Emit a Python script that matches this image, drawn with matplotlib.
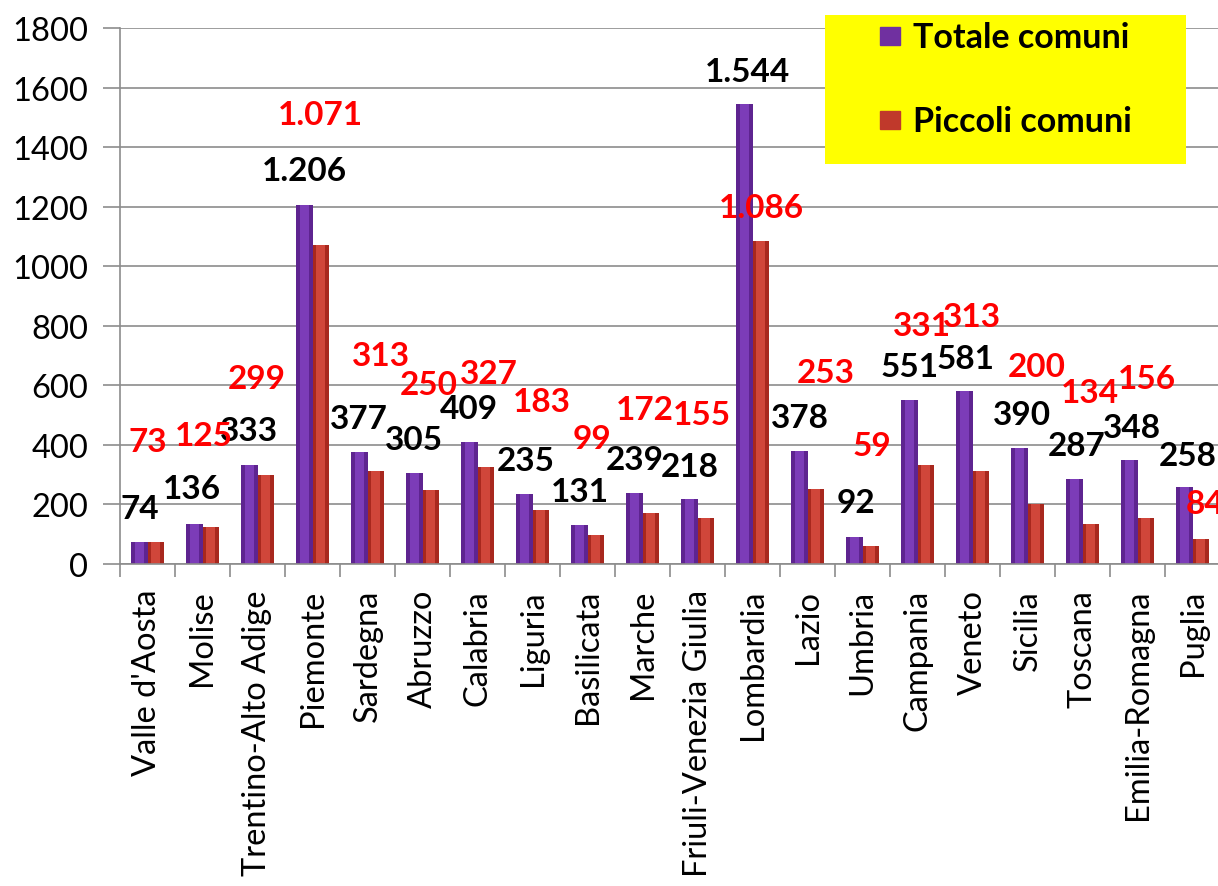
import matplotlib.pyplot as plt
import numpy as np

# --- data ---
regioni = ["Valle d'Aosta", "Molise", "Trentino-Alto Adige", "Piemonte", "Sardegna",
           "Abruzzo", "Calabria", "Liguria", "Basilicata", "Marche",
           "Friuli-Venezia Giulia", "Lombardia", "Lazio", "Umbria", "Campania",
           "Veneto", "Sicilia", "Toscana", "Emilia-Romagna", "Puglia"]
totale = [74, 136, 333, 1206, 377, 305, 409, 235, 131, 239,
          218, 1544, 378, 92, 551, 581, 390, 287, 348, 258]
piccoli = [73, 125, 299, 1071, 313, 250, 327, 183, 99, 172,
           155, 1086, 253, 59, 331, 313, 200, 134, 156, 84]

# where the labels sit in the original (they are not at the bar tops)
tot_lab_x = [-0.14, 0.81, 1.85, 2.86, 3.85, 4.85, 5.85, 6.88, 7.86, 8.86,
             9.86, 10.9, 11.86, 12.88, 13.86, 14.88, 15.9, 16.9, 17.9, 18.92]
tot_lab_y = [185, 252, 447, 1321, 487, 417, 521, 346, 242, 350,
             329, 1654, 491, 208, 662, 689, 501, 397, 457, 363]
pic_lab_x = [0.01, 1.03, 1.99, 3.14, 4.25, 5.12, 6.21, 7.17, 8.08, 9.05,
             10.08, 11.17, 12.34, 13.17, 14.08, 14.99, 16.17, 17.14, 18.17, 19.23]
pic_lab_y = [410, 430, 622, 1509, 699, 602, 639, 545, 420, 518,
             501, 1197, 642, 397, 800, 830, 662, 575, 622, 202]

plt.rcParams['font.family'] = ['Lato', 'DejaVu Sans']

def fmt(v):
    return f"{v:,}".replace(",", ".")

fig = plt.figure(figsize=(12.18, 8.87), dpi=100)
ax = fig.add_axes([120 / 1218, 322 / 887, 1100 / 1218, 536 / 887])

x = np.arange(len(regioni))
w = 0.3
purple, purple_hi = "#5e2490", "#7c3cb8"
red, red_hi = "#a8281e", "#d0463a"

# base bars + lighter middle stripe for the bevelled look
ax.bar(x - w / 2, totale, w, color=purple, zorder=2)
ax.bar(x - w / 2, totale, w * 0.55, color=purple_hi, zorder=2.1)
ax.bar(x + w / 2, piccoli, w, color=red, zorder=2)
ax.bar(x + w / 2, piccoli, w * 0.55, color=red_hi, zorder=2.1)

for i in range(len(regioni)):
    ax.text(tot_lab_x[i], tot_lab_y[i], fmt(totale[i]), ha="center", va="center",
            fontsize=24, fontweight="bold", color="black", zorder=4)
for i in range(len(regioni)):
    ax.text(pic_lab_x[i], pic_lab_y[i], fmt(piccoli[i]), ha="center", va="center",
            fontsize=24, fontweight="bold", color="#ff0000", zorder=5)

ax.set_xlim(-0.5, len(regioni) - 0.5)
ax.set_ylim(0, 1800)
ax.set_yticks(np.arange(0, 1801, 200))
ax.yaxis.grid(True, color="#8c8c8c", linewidth=1.2, zorder=0)
ax.set_axisbelow(True)

ax.set_xticks(x)
ax.set_xticklabels(regioni, rotation=90, fontsize=23.5)
ax.set_xticks(np.arange(-0.5, len(regioni)), minor=True)
ax.tick_params(axis="x", which="major", length=0, pad=18)
ax.tick_params(axis="x", which="minor", length=9, color="#8c8c8c", width=1.2)
ax.tick_params(axis="y", length=12, color="#8c8c8c", width=1.2, labelsize=23.5, pad=11)

for s in ["top", "right"]:
    ax.spines[s].set_visible(False)
for s in ["left", "bottom"]:
    ax.spines[s].set_color("#8c8c8c")
    ax.spines[s].set_linewidth(1.2)

# yellow legend box
leg = fig.add_axes([825 / 1218, (887 - 165) / 887, 361 / 1218, 149 / 887])
leg.set_facecolor("#ffff00")
leg.set_xlim(0, 361)
leg.set_ylim(149, 0)
leg.set_xticks([])
leg.set_yticks([])
for s in leg.spines.values():
    s.set_visible(False)
leg.add_patch(plt.Rectangle((55, 12), 20, 18, color="#7030a0"))
leg.add_patch(plt.Rectangle((55, 96), 20, 18, color="#c0392b"))
leg.text(88, 22, "Totale comuni", fontsize=24.5, fontweight="bold", va="center")
leg.text(88, 106, "Piccoli comuni", fontsize=24.5, fontweight="bold", va="center")

fig.savefig("out.png", dpi=100)
